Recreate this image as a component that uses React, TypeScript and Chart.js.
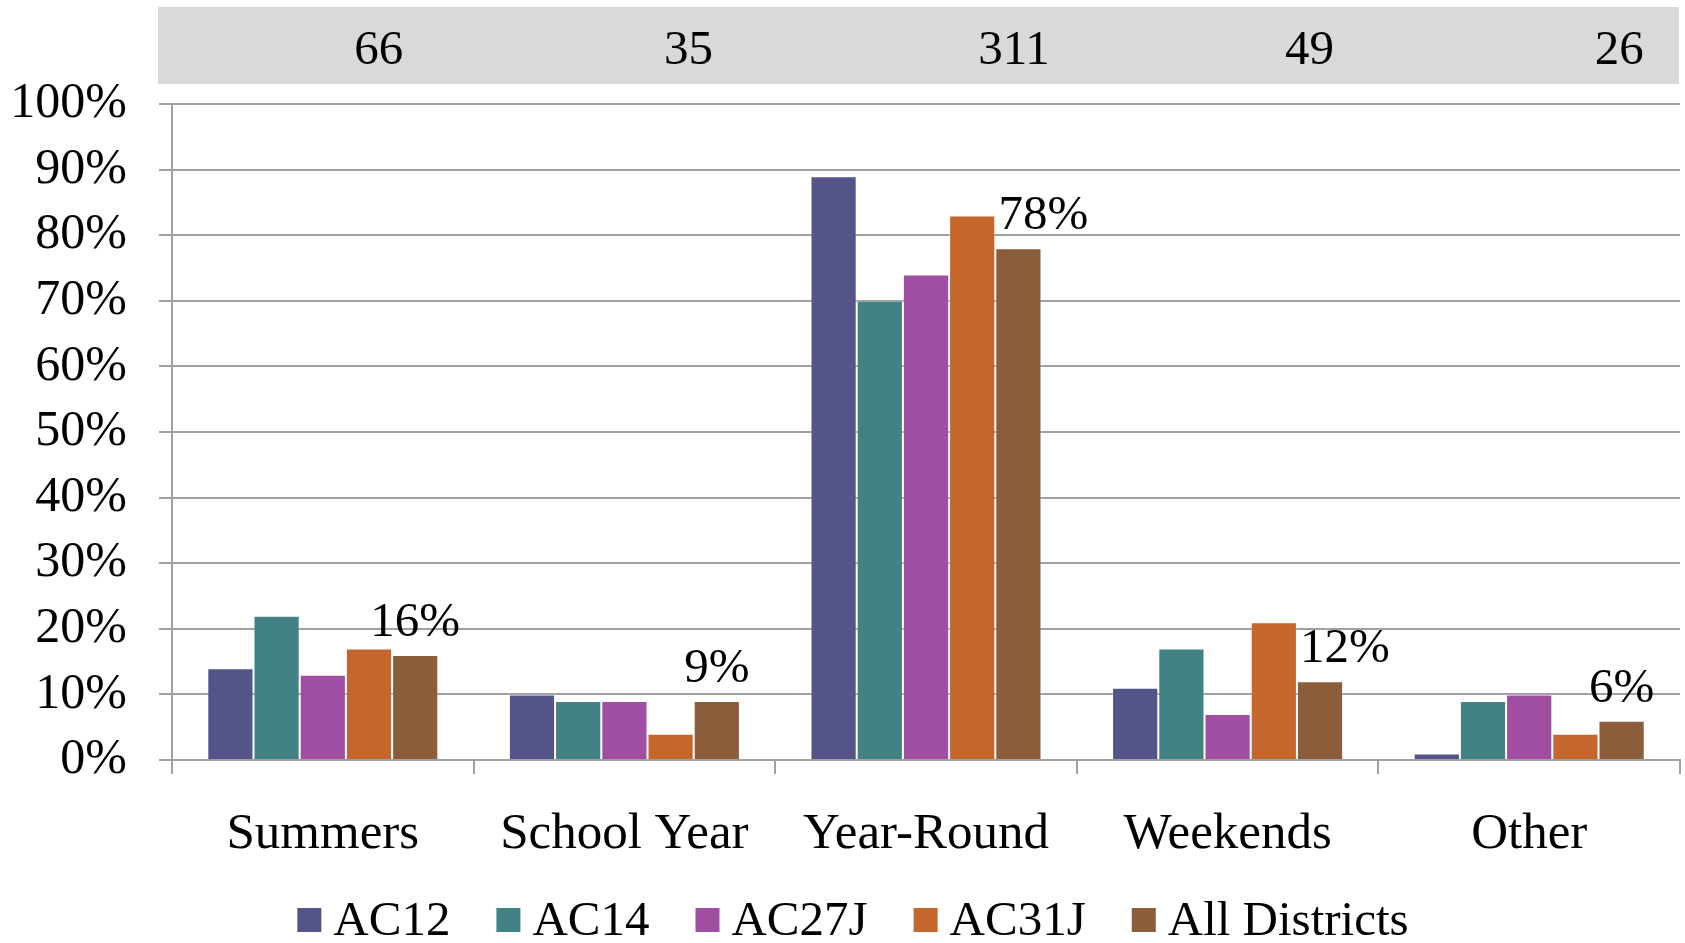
import React, { useEffect, useRef } from "react";
import { Chart, registerables } from "chart.js";

Chart.register(...registerables);

const categories = ["Summers", "School Year", "Year-Round", "Weekends", "Other"];
const seriesNames = ["AC12", "AC14", "AC27J", "AC31J", "All Districts"];
const ac12 = [14, 10, 89, 11, 1];
const ac14 = [22, 9, 70, 17, 9];
const ac27j = [13, 9, 74, 7, 10];
const ac31j = [17, 4, 83, 21, 4];
const allDistricts = [16, 9, 78, 12, 6];
const responseCounts = ["66", "35", "311", "49", "26"];
const yTicks = [0, 10, 20, 30, 40, 50, 60, 70, 80, 90, 100];

// styling / placement (not data)
const colors = ["#54548a", "#428184", "#a04ea2", "#c5662d", "#8b5d3b"];
const countOffsets = [56, 64, 88, 82, 90];
const labelOffsets = [0, 0, 25, 25, 0];
const FONT = "'Liberation Serif', 'Times New Roman', serif";

const overlayPlugin = {
  id: "overlay",
  beforeDraw(chart: any) {
    const ctx = chart.ctx;
    ctx.save();
    ctx.fillStyle = "#d9d9d9";
    ctx.fillRect(158, 7, 1679 - 158, 84 - 7);
    ctx.restore();
  },
  afterDraw(chart: any) {
    const ctx = chart.ctx;
    const x = chart.scales.x;
    const y = chart.scales.y;
    ctx.save();
    // counts in the band
    ctx.fillStyle = "#000";
    ctx.font = `49px ${FONT}`;
    ctx.textAlign = "center";
    ctx.textBaseline = "middle";
    responseCounts.forEach((c, i) => {
      ctx.fillText(c, x.getPixelForValue(i) + countOffsets[i], 51);
    });
    // data labels on the All Districts series
    const meta = chart.getDatasetMeta(4);
    ctx.font = `49px ${FONT}`;
    ctx.textBaseline = "alphabetic";
    meta.data.forEach((bar: any, i: number) => {
      const v = allDistricts[i];
      ctx.fillText(`${v}%`, bar.x + labelOffsets[i], y.getPixelForValue(v) - 19);
    });
    // custom legend
    ctx.font = `49px ${FONT}`;
    ctx.textAlign = "left";
    ctx.textBaseline = "middle";
    const box = 24;
    const gapText = 12;
    const gapItem = 46;
    const widths = seriesNames.map((n) => box + gapText + ctx.measureText(n).width);
    const total = widths.reduce((a, b) => a + b, 0) + gapItem * (widths.length - 1);
    let lx = 853 - total / 2;
    const ly = 920;
    seriesNames.forEach((n, i) => {
      ctx.fillStyle = colors[i];
      ctx.fillRect(lx, ly - box / 2, box, box);
      ctx.fillStyle = "#000";
      ctx.fillText(n, lx + box + gapText, ly + 2);
      lx += widths[i] + gapItem;
    });
    ctx.restore();
  },
};

export default function App() {
  const ref = useRef<HTMLCanvasElement>(null);
  useEffect(() => {
    document.body.style.margin = "0";
    const series = [ac12, ac14, ac27j, ac31j, allDistricts];
    const chart = new Chart(ref.current as HTMLCanvasElement, {
      type: "bar",
      data: {
        labels: categories,
        datasets: series.map((d, i) => ({
          label: seriesNames[i],
          data: d,
          backgroundColor: colors[i],
          borderColor: "rgba(255,255,255,0.35)",
          borderWidth: 1,
          barPercentage: 1,
          categoryPercentage: 0.766,
        })),
      },
      options: {
        animation: false,
        responsive: false,
        layout: { padding: { top: 104, right: 5, left: 0, bottom: 0 } },
        plugins: {
          legend: { display: false },
          tooltip: { enabled: false },
        },
        scales: {
          x: {
            grid: {
              offset: true,
              drawOnChartArea: false,
              drawTicks: true,
              tickLength: 14,
              color: "#a0a0a0",
              lineWidth: 2,
            },
            border: { display: true, color: "#a0a0a0", width: 2 },
            ticks: {
              color: "#000",
              font: { family: FONT, size: 51 },
              padding: 30,
              maxRotation: 0,
              autoSkip: false,
            },
            afterFit: (s: any) => {
              s.height = 943 - 760;
            },
          },
          y: {
            min: 0,
            max: 100,
            afterBuildTicks: (s: any) => {
              s.ticks = yTicks.map((v) => ({ value: v }));
            },
            grid: {
              color: "#a0a0a0",
              lineWidth: 2,
              tickLength: 13,
            },
            border: { display: true, color: "#a0a0a0", width: 2 },
            ticks: {
              color: "#000",
              font: { family: FONT, size: 50 },
              padding: 32,
              callback: (v: any) => `${v}%`,
            },
            afterFit: (s: any) => {
              s.width = 172;
            },
          },
        },
      },
      plugins: [overlayPlugin],
    });
    return () => chart.destroy();
  }, []);
  return (
    <div style={{ width: 1685, height: 943, position: "relative", background: "#fff" }}>
      <canvas ref={ref} width={1685} height={943} />
    </div>
  );
}
